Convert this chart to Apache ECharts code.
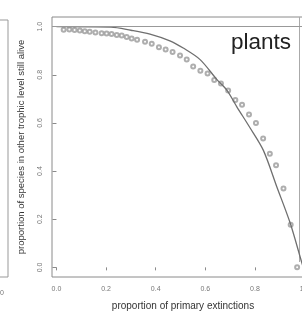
<!DOCTYPE html>
<html style="height: 100%">
<head>
  <meta charset="utf-8">
</head>
<body style="height: 100%; margin: 0; background: #fff">
  <div id="container" style="width: 302px; height: 318px"></div>
  <script type="text/javascript" src="https://fastly.jsdelivr.net/npm/echarts@6.0.0/dist/echarts.min.js"></script>
  <script type="text/javascript">
    // observed points (circles)
    var dotX = [0.029, 0.052, 0.073, 0.094, 0.114, 0.134, 0.157, 0.182, 0.202, 0.222,
      0.243, 0.263, 0.283, 0.303, 0.325, 0.357, 0.384, 0.413, 0.440, 0.468,
      0.498, 0.525, 0.551, 0.580, 0.609, 0.636, 0.663, 0.692, 0.721, 0.748,
      0.776, 0.804, 0.833, 0.860, 0.885, 0.915, 0.944, 0.970];
    var dotY = [0.987, 0.988, 0.986, 0.984, 0.981, 0.979, 0.976, 0.973, 0.971, 0.969,
      0.965, 0.963, 0.957, 0.951, 0.946, 0.937, 0.929, 0.914, 0.905, 0.895,
      0.880, 0.863, 0.834, 0.817, 0.805, 0.778, 0.764, 0.735, 0.695, 0.675,
      0.635, 0.600, 0.535, 0.472, 0.424, 0.328, 0.177, 0.001];
    // fitted curve
    var lineX = [0, 0.22, 0.30, 0.377, 0.457, 0.511, 0.579, 0.646, 0.686, 0.727,
      0.78, 0.834, 0.888, 0.942, 0.989, 0.995];
    var lineY = [1.0, 0.998, 0.985, 0.969, 0.941, 0.911, 0.863, 0.781, 0.737, 0.667,
      0.58, 0.486, 0.335, 0.184, 0.019, 0.0];
    // tick labels
    var xTicks = [0, 0.2, 0.4, 0.6, 0.8, 1.0];
    var yTicks = [0, 0.2, 0.4, 0.6, 0.8, 1.0];

    var dots = dotX.map(function (x, i) { return [x, dotY[i]]; });
    var curve = lineX.map(function (x, i) { return [x, lineY[i]]; });

    var font = 'Liberation Sans, Arial, sans-serif';
    var myChart = echarts.init(document.getElementById('container'), null, { renderer: 'canvas' });

    var option = {
      animation: false,
      grid: {
        left: 52, top: 17, width: 262, height: 260,
        outerBoundsMode: 'none', containLabel: false,
        show: true, borderColor: '#8a8a8a', borderWidth: 1
      },
      xAxis: {
        type: 'value', min: -0.018, max: 1.038,
        name: 'proportion of primary extinctions',
        nameLocation: 'middle', nameGap: 24,
        nameTextStyle: { fontFamily: font, fontSize: 10, color: '#333' },
        axisLine: { show: false },
        splitLine: { show: false },
        axisTick: { show: true, inside: false, length: 3, customValues: xTicks, lineStyle: { color: '#8a8a8a' } },
        axisLabel: {
          customValues: xTicks, margin: 9, fontFamily: font, fontSize: 7, color: '#777',
          formatter: function (v) { return v.toFixed(1); }
        }
      },
      yAxis: {
        type: 'value', min: -0.04, max: 1.04,
        name: 'proportion of species in other trophic level still alive',
        nameLocation: 'middle', nameGap: 26,
        nameTextStyle: { fontFamily: font, fontSize: 9.5, color: '#333' },
        axisLine: { show: false },
        splitLine: { show: false },
        axisTick: { show: true, length: 4, customValues: yTicks, lineStyle: { color: '#8a8a8a' } },
        axisLabel: {
          customValues: yTicks, rotate: 90, margin: 8, fontFamily: font, fontSize: 7, color: '#777',
          formatter: function (v) { return v.toFixed(1); }
        }
      },
      series: [
        {
          type: 'line', data: curve, symbol: 'none', smooth: 0.3,
          lineStyle: { color: '#6f6f6f', width: 1.3 },
          markLine: {
            silent: true, symbol: 'none', label: { show: false },
            lineStyle: { color: '#999', width: 1, type: 'solid' },
            data: [{ yAxis: 1 }]
          },
          z: 3
        },
        {
          type: 'scatter', data: dots, symbol: 'emptyCircle', symbolSize: 4,
          itemStyle: { color: '#9a9a9a', borderColor: '#9a9a9a', borderWidth: 0.8 },
          z: 2
        }
      ],
      graphic: [
        { type: 'rect', shape: { x: -5, y: 20, width: 13, height: 257 }, style: { fill: 'none', stroke: '#999', lineWidth: 1 } },
        { type: 'text', style: { x: 4, y: 293, text: '1.0', textAlign: 'right', textVerticalAlign: 'middle', font: '7px ' + font, fill: '#777' } },
        { type: 'line', shape: { x1: 299.5, y1: 17, x2: 299.5, y2: 262 }, style: { stroke: '#aaa', lineWidth: 1 } },
        { type: 'text', style: { x: 231, y: 31, text: 'plants', textAlign: 'left', textVerticalAlign: 'top', font: '22.5px ' + font, fill: '#222' } }
      ]
    };

    myChart.setOption(option);
    window.addEventListener('resize', myChart.resize);
  </script>
</body>
</html>
